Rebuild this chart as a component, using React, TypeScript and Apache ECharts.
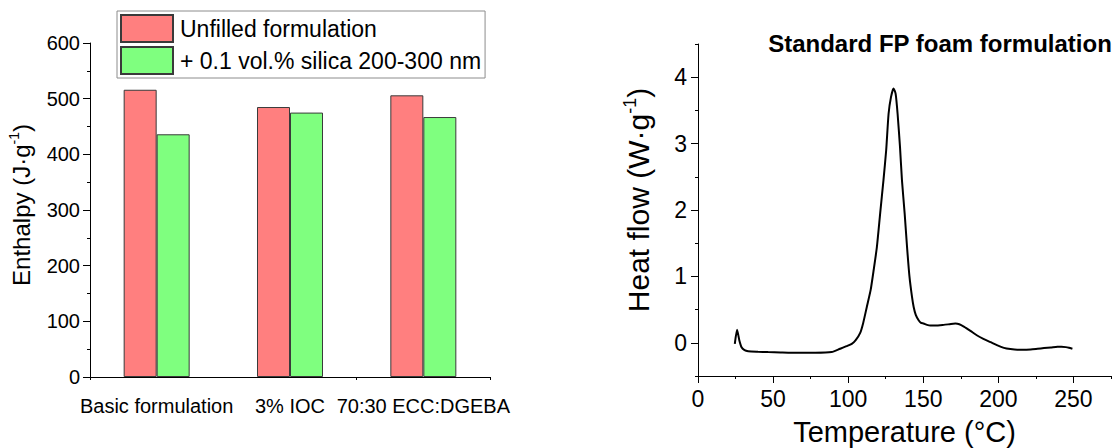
import React, { useEffect, useRef } from "react";
import * as echarts from "echarts";

const categories = ["Basic formulation", "3% IOC", "70:30 ECC:DGEBA"];
const unfilled = [516, 485, 506];
const silica = [436, 475, 467];
const seriesNames = ["Unfilled formulation", "+ 0.1 vol.% silica 200-300 nm"];

const temperature = [24.5, 26.0, 27.5, 29, 31, 33.4, 40, 46.7, 55, 66.8, 78, 89, 94.6, 99, 102.4, 105, 108, 110, 112.4, 115, 117, 119.1, 121.3, 123.5, 125.3, 126.9, 128.5, 130.2, 131.6, 132.9, 134.5, 135.8, 137.6, 139.2, 140.8, 142.5, 143.6, 145, 146.9, 148.5, 150.2, 152.5, 154.7, 158, 163.6, 167.5, 171.4, 174, 177, 181.4, 185.9, 190, 194.8, 199, 203.7, 208, 212.6, 217, 221.5, 226, 230.4, 235, 239.3, 242, 244.9, 247, 249.3];
const heatFlow = [-0.015, 0.196, 0.04, -0.066, -0.11, -0.127, -0.135, -0.14, -0.145, -0.15, -0.15, -0.14, -0.09, -0.05, -0.015, 0.04, 0.15, 0.3, 0.54, 0.8, 1.1, 1.44, 1.95, 2.45, 2.9, 3.45, 3.7, 3.83, 3.75, 3.45, 2.95, 2.45, 1.95, 1.44, 1.0, 0.69, 0.54, 0.42, 0.34, 0.3, 0.29, 0.27, 0.26, 0.26, 0.27, 0.28, 0.29, 0.28, 0.245, 0.18, 0.11, 0.06, 0.01, -0.035, -0.076, -0.095, -0.106, -0.106, -0.1, -0.09, -0.08, -0.07, -0.06, -0.058, -0.065, -0.075, -0.09];

const xMajorTicks = [0, 50, 100, 150, 200, 250];
const yMajorTicks = [0, 1, 2, 3, 4];

const FONT = "'Liberation Sans', Arial, sans-serif";

export default function App() {
  const ref = useRef<HTMLDivElement>(null);
  useEffect(() => {
    document.body.style.margin = "0";
    const chart = echarts.init(ref.current!, null, { renderer: "svg" });
    const black = "#000";
    const option: any = {
      animation: false,
      textStyle: { fontFamily: FONT, color: black },
      legend: {
        orient: "vertical",
        left: 117,
        top: 11,
        padding: [3, 4, 3, 3],
        itemWidth: 52,
        itemHeight: 27,
        itemGap: 3,
        borderColor: "#8c8c8c",
        borderWidth: 1,
        borderRadius: 0,
        backgroundColor: "#fff",
        icon: "rect",
        textStyle: { fontSize: 23, color: black, fontFamily: FONT, padding: [0, 0, 0, 2] },
        data: seriesNames,
      },
      title: {
        text: "Standard FP foam formulation",
        left: 940,
        top: 31,
        padding: 0,
        textAlign: "center",
        textStyle: { fontSize: 24, fontWeight: "bold", color: black, fontFamily: FONT },
      },
      grid: [
        { left: 90, top: 43, width: 400, height: 334, outerBoundsMode: "none", containLabel: false },
        { left: 698, top: 44, width: 413, height: 332, outerBoundsMode: "none", containLabel: false },
      ],
      xAxis: [
        {
          type: "category",
          gridIndex: 0,
          position: "bottom",
          data: categories,
          axisLine: { onZero: false, lineStyle: { color: black, width: 1 } },
          axisTick: { alignWithLabel: true, length: 6, lineStyle: { color: black } },
          axisLabel: { fontSize: 20, color: black, margin: 19, interval: 0, fontFamily: FONT },
          splitLine: { show: false },
        },
        {
          type: "category",
          gridIndex: 0,
          position: "bottom",
          data: categories,
          axisLine: { show: false, onZero: false },
          axisTick: { show: true, alignWithLabel: false, length: 3, lineStyle: { color: black } },
          axisLabel: { show: false },
          splitLine: { show: false },
        },
        {
          type: "value",
          gridIndex: 1,
          position: "bottom",
          min: 0,
          max: 275,
          interval: 25,
          name: "Temperature (°C)",
          nameLocation: "middle",
          nameGap: 41,
          nameTextStyle: { fontSize: 29, color: black, fontFamily: FONT },
          axisLine: { onZero: false, lineStyle: { color: black, width: 1 } },
          axisTick: { length: 3, lineStyle: { color: black } },
          axisLabel: {
            fontSize: 23,
            color: black,
            margin: 11,
            fontFamily: FONT,
            formatter: (v: number) => (v % 50 === 0 ? String(v) : ""),
          },
          splitLine: { show: false },
        },
        {
          type: "value",
          gridIndex: 1,
          position: "bottom",
          min: 0,
          max: 275,
          interval: 25,
          axisLine: { show: false, onZero: false },
          axisTick: { show: true, length: 7, customValues: xMajorTicks, lineStyle: { color: black } },
          axisLabel: { show: false },
          splitLine: { show: false },
        },
      ],
      yAxis: [
        {
          type: "value",
          gridIndex: 0,
          position: "left",
          min: 0,
          max: 600,
          interval: 100,
          name: "Enthalpy (J·g{sup|-1})",
          nameLocation: "middle",
          nameGap: 55,
          nameTextStyle: {
            fontSize: 24,
            color: black,
            fontFamily: FONT,
            lineHeight: 28,
            padding: [0, 0, 0, 10],
            rich: { sup: { fontSize: 14, lineHeight: 28, verticalAlign: "top", color: black, fontFamily: FONT } },
          },
          axisLine: { show: true, onZero: false, lineStyle: { color: black, width: 1 } },
          axisTick: { show: true, length: 7, lineStyle: { color: black } },
          minorTick: { show: true, splitNumber: 2, length: 3, lineStyle: { color: black } },
          axisLabel: { fontSize: 20, color: black, margin: 10, fontFamily: FONT },
          splitLine: { show: false },
        },
        {
          type: "value",
          gridIndex: 1,
          position: "left",
          min: -0.5,
          max: 4.5,
          interval: 0.5,
          name: "Heat flow (W·g{sup|-1})",
          nameLocation: "middle",
          nameGap: 43,
          nameTextStyle: {
            fontSize: 30,
            color: black,
            fontFamily: FONT,
            lineHeight: 34,
            padding: [0, 0, 0, 20],
            rich: { sup: { fontSize: 18, lineHeight: 34, verticalAlign: "top", color: black, fontFamily: FONT } },
          },
          axisLine: { show: true, onZero: false, lineStyle: { color: black, width: 1 } },
          axisTick: { show: true, length: 3, lineStyle: { color: black } },
          axisLabel: {
            fontSize: 23,
            color: black,
            margin: 11,
            fontFamily: FONT,
            formatter: (v: number) => (Number.isInteger(v) && v >= 0 ? String(v) : ""),
          },
          splitLine: { show: false },
        },
        {
          type: "value",
          gridIndex: 1,
          position: "left",
          min: -0.5,
          max: 4.5,
          interval: 0.5,
          axisLine: { show: false, onZero: false },
          axisTick: { show: true, length: 7, customValues: yMajorTicks, lineStyle: { color: black } },
          axisLabel: { show: false },
          splitLine: { show: false },
        },
      ],
      series: [
        {
          name: seriesNames[0],
          type: "bar",
          xAxisIndex: 0,
          yAxisIndex: 0,
          data: unfilled,
          barWidth: 33,
          barGap: "0%",
          itemStyle: { color: "#ff7f7f", borderColor: "#3a3a3a", borderWidth: 1 },
        },
        {
          name: seriesNames[1],
          type: "bar",
          xAxisIndex: 0,
          yAxisIndex: 0,
          data: silica,
          barWidth: 33,
          barGap: "0%",
          itemStyle: { color: "#7fff7f", borderColor: "#3a3a3a", borderWidth: 1 },
        },
        {
          name: "DSC",
          type: "line",
          xAxisIndex: 2,
          yAxisIndex: 1,
          data: temperature.map((t, i) => [t, heatFlow[i]]),
          showSymbol: false,
          smooth: 0.2,
          lineStyle: { color: black, width: 2 },
          itemStyle: { color: black },
        },
      ],
    };
    chart.setOption(option);
    return () => chart.dispose();
  }, []);
  return (
    <div
      ref={ref}
      style={{ position: "absolute", left: 0, top: 0, width: 1119, height: 448, background: "#fff" }}
    />
  );
}
